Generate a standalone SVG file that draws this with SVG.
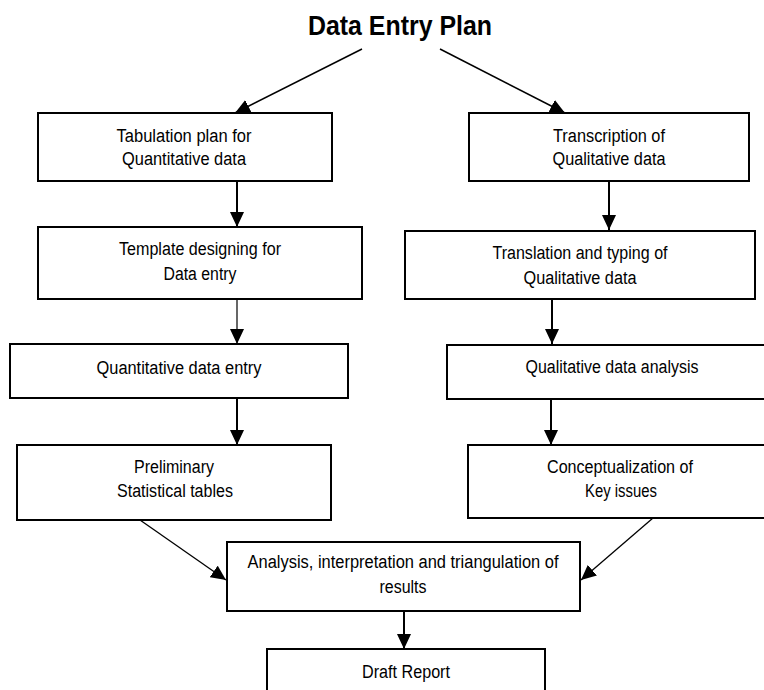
<svg xmlns="http://www.w3.org/2000/svg" width="764" height="690" viewBox="0 0 764 690">
<style>
.box{fill:#fff;stroke:#000;stroke-width:2}
.t{font-family:"Liberation Sans",Arial,sans-serif;font-size:18px;fill:#000;text-anchor:middle}
.title{font-family:"Liberation Sans",Arial,sans-serif;font-size:27px;font-weight:bold;fill:#000;text-anchor:middle}
.c{stroke:#000;fill:none;marker-end:url(#ah)}
</style>
<defs>
<marker id="ah" markerUnits="userSpaceOnUse" markerWidth="16" markerHeight="14" refX="15" refY="7" orient="auto">
<path d="M0,0 L15,7 L0,14 Z" fill="#000"/>
</marker>
</defs>
<rect width="764" height="690" fill="#fff"/>
<text class="title" x="400" y="35" textLength="184" lengthAdjust="spacingAndGlyphs">Data Entry Plan</text>
<g id="connectors">
<line class="c" x1="362" y1="49" x2="235" y2="113" stroke-width="1.5"/>
<line class="c" x1="440" y1="49" x2="565" y2="113" stroke-width="1.5"/>
<line class="c" x1="237" y1="181" x2="237" y2="227" stroke-width="2"/>
<line class="c" x1="609" y1="181" x2="609" y2="230" stroke-width="2"/>
<line class="c" x1="237" y1="299" x2="237" y2="344" stroke-width="1.2"/>
<line class="c" x1="552" y1="299" x2="552" y2="344" stroke-width="2"/>
<line class="c" x1="237" y1="398" x2="237" y2="445" stroke-width="2"/>
<line class="c" x1="551" y1="399" x2="551" y2="445" stroke-width="2"/>
<line class="c" x1="140" y1="520" x2="226" y2="580" stroke-width="1.3"/>
<line class="c" x1="653" y1="518" x2="581" y2="580" stroke-width="1.3"/>
<line class="c" x1="404" y1="611" x2="404" y2="649" stroke-width="2"/>
</g>
<g id="n1"><rect class="box" x="38" y="113" width="294" height="68"/>
<text class="t" x="184" y="142" textLength="135" lengthAdjust="spacingAndGlyphs">Tabulation plan for</text>
<text class="t" x="184" y="165" textLength="124" lengthAdjust="spacingAndGlyphs">Quantitative data</text></g>
<g id="n2"><rect class="box" x="469" y="113" width="280" height="68"/>
<text class="t" x="609" y="142" textLength="112" lengthAdjust="spacingAndGlyphs">Transcription of</text>
<text class="t" x="609" y="165" textLength="113" lengthAdjust="spacingAndGlyphs">Qualitative data</text></g>
<g id="n3"><rect class="box" x="38" y="227" width="324" height="72"/>
<text class="t" x="200" y="255" textLength="162" lengthAdjust="spacingAndGlyphs">Template designing for</text>
<text class="t" x="200" y="280" textLength="73" lengthAdjust="spacingAndGlyphs">Data entry</text></g>
<g id="n4"><rect class="box" x="405" y="231" width="350" height="68"/>
<text class="t" x="580" y="259" textLength="175" lengthAdjust="spacingAndGlyphs">Translation and typing of</text>
<text class="t" x="580" y="284" textLength="113" lengthAdjust="spacingAndGlyphs">Qualitative data</text></g>
<g id="n5"><rect class="box" x="10" y="344" width="338" height="54"/>
<text class="t" x="179" y="374" textLength="165" lengthAdjust="spacingAndGlyphs">Quantitative data entry</text></g>
<g id="n6"><rect class="box" x="447" y="345" width="323" height="54"/>
<text class="t" x="612" y="373" textLength="173" lengthAdjust="spacingAndGlyphs">Qualitative data analysis</text></g>
<g id="n7"><rect class="box" x="17" y="445" width="314" height="75"/>
<text class="t" x="174" y="473" textLength="80" lengthAdjust="spacingAndGlyphs">Preliminary</text>
<text class="t" x="175" y="497" textLength="116" lengthAdjust="spacingAndGlyphs">Statistical tables</text></g>
<g id="n8"><rect class="box" x="468" y="445" width="302" height="73"/>
<text class="t" x="620" y="473" textLength="146" lengthAdjust="spacingAndGlyphs">Conceptualization of</text>
<text class="t" x="621" y="497" textLength="72" lengthAdjust="spacingAndGlyphs">Key issues</text></g>
<g id="n9"><rect class="box" x="227" y="542" width="353" height="69"/>
<text class="t" x="403" y="568" textLength="311" lengthAdjust="spacingAndGlyphs">Analysis, interpretation and triangulation of</text>
<text class="t" x="403" y="593" textLength="47" lengthAdjust="spacingAndGlyphs">results</text></g>
<g id="n10"><rect class="box" x="267" y="649" width="278" height="60"/>
<text class="t" x="406" y="678" textLength="88" lengthAdjust="spacingAndGlyphs">Draft Report</text></g>
</svg>
